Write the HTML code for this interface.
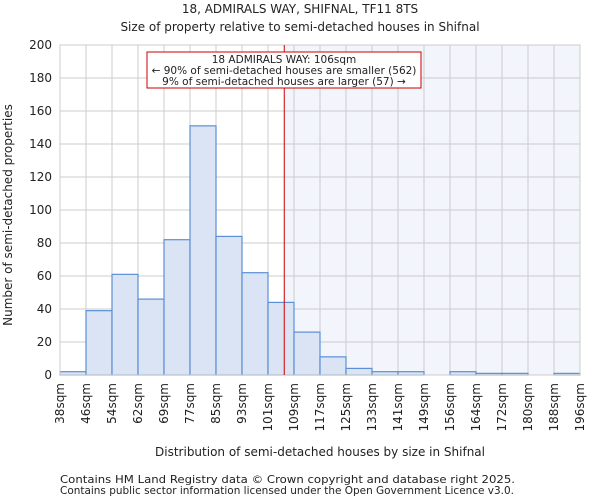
<!DOCTYPE html>
<html><head><meta charset="utf-8"><style>
body{margin:0;background:#fff;font-family:"DejaVu Sans","Liberation Sans",sans-serif;}
svg text{font-family:"DejaVu Sans","Liberation Sans",sans-serif;fill:#222;}
</style></head><body>
<svg id="chart" width="600" height="500" xmlns="http://www.w3.org/2000/svg">
<text x="300" y="13" font-size="12" text-anchor="middle">18, ADMIRALS WAY, SHIFNAL, TF11 8TS</text>
<text x="300" y="31" font-size="12" text-anchor="middle">Size of property relative to semi-detached houses in Shifnal</text>
<g id="plot"></g>
<text x="320" y="456" font-size="12" text-anchor="middle">Distribution of semi-detached houses by size in Shifnal</text>
<text transform="translate(12,215) rotate(-90)" font-size="12" text-anchor="middle">Number of semi-detached properties</text>
<text x="60" y="483" font-size="11" textLength="455" lengthAdjust="spacingAndGlyphs" fill="#444">Contains HM Land Registry data © Crown copyright and database right 2025.</text>
<text x="60" y="494" font-size="11" textLength="454" lengthAdjust="spacingAndGlyphs" fill="#444">Contains public sector information licensed under the Open Government Licence v3.0.</text>
</svg>
<script>
const binLabels=["38sqm","46sqm","54sqm","62sqm","69sqm","77sqm","85sqm","93sqm","101sqm","109sqm","117sqm","125sqm","133sqm","141sqm","149sqm","156sqm","164sqm","172sqm","180sqm","188sqm","196sqm"];
const counts=[2,39,61,46,82,151,84,62,44,26,11,4,2,2,0,2,1,1,0,1];
const yTicks=[0,20,40,60,80,100,120,140,160,180,200];
const propertyBinPos=8.625;
const annotationLines=["18 ADMIRALS WAY: 106sqm","← 90% of semi-detached houses are smaller (562)","9% of semi-detached houses are larger (57) →"];
const NS="http://www.w3.org/2000/svg";
const L=60,R=580,T=45,B=375;
const bw=(R-L)/counts.length;
const x=i=>L+i*bw;
const y=v=>B-(v/200)*(B-T);
const g=document.getElementById('plot');
function el(t,a){const e=document.createElementNS(NS,t);for(const k in a)e.setAttribute(k,a[k]);g.appendChild(e);return e;}
const px=x(propertyBinPos);
let e=el('rect',{x:px,y:T,width:R-px,height:B-T,fill:'#f3f5fd'});


yTicks.forEach(v=>{
 let l=el('line',{x1:L,x2:R,y1:y(v),y2:y(v),stroke:'#ccc','stroke-width':1});
 
 
 let t=el('text',{x:L-8,y:y(v)+4,'font-size':12,'text-anchor':'end'});t.textContent=v;
 
 
});
binLabels.forEach((s,i)=>{
 let l=el('line',{x1:x(i),x2:x(i),y1:T,y2:B,stroke:'#ccc','stroke-width':1});
 
 
 let t=el('text',{transform:`translate(${x(i)+4},${B+8}) rotate(-90)`,'font-size':12,'text-anchor':'end'});t.textContent=s;
 
 
});
counts.forEach((c,i)=>{
 let r=el('rect',{x:x(i),y:y(c),width:bw,height:B-y(c),fill:'#dae4f4',stroke:'#5b8fd6','stroke-width':1.2});
 
 
});
e=el('rect',{x:L,y:T,width:R-L,height:B-T,fill:'none',stroke:'#ccc'});


e=el('line',{x1:px,x2:px,y1:T,y2:B,stroke:'#cc0000','stroke-width':1});


e=el('rect',{x:147,y:52,width:274,height:36,fill:'#fff',stroke:'#cc0000','stroke-width':1});


annotationLines.forEach((s,i)=>{
 let t=el('text',{x:284,y:63+i*11,'font-size':10.5,'text-anchor':'middle'});t.textContent=s;
 
 
});
</script>
</body></html>
